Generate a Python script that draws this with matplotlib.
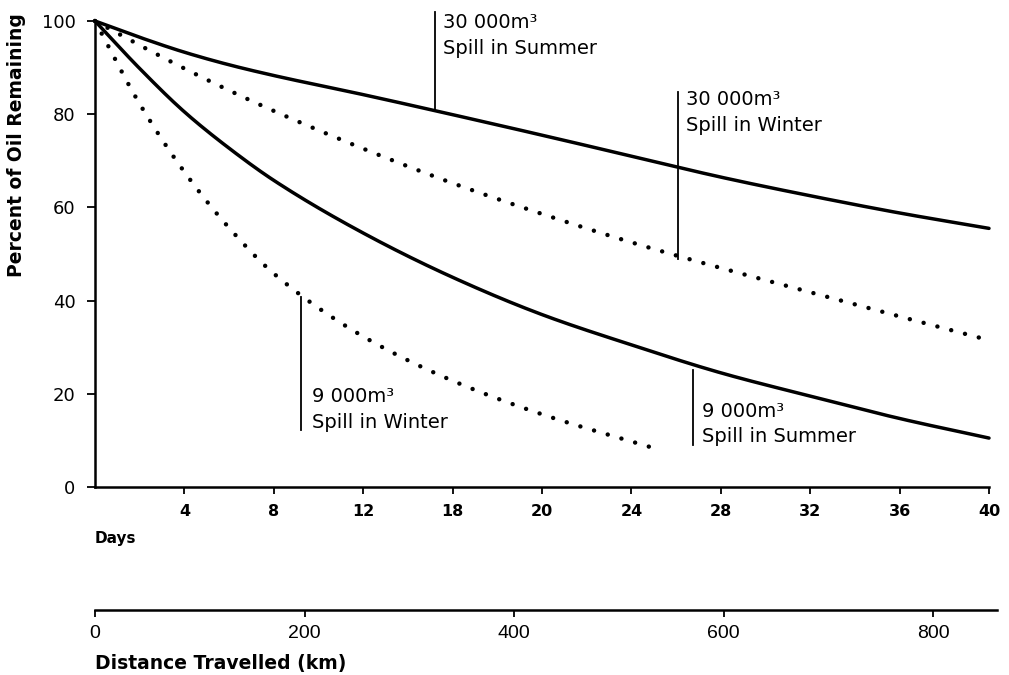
import numpy as np
import matplotlib
matplotlib.use("Agg")
import matplotlib.pyplot as plt

plt.rcParams["font.family"] = ["DejaVu Sans"]

# curves (percent of oil remaining vs days)
days = [0, 2, 4, 6, 8, 12, 16, 20, 24, 28, 32, 36, 40]
summer_30k = [100, 96.5, 93.3, 90.6, 88.3, 84.2, 79.9, 75.5, 71.0, 66.5, 62.5, 58.8, 55.5]
winter_30k = [100, 94.8, 89.8, 85.1, 80.7, 72.6, 65.2, 58.6, 52.5, 47.0, 41.8, 36.6, 31.5]
summer_9k = [100, 89.8, 80.5, 72.7, 65.8, 54.5, 45.0, 37.0, 30.5, 24.5, 19.5, 14.7, 10.5]
days_w9 = [0, 2, 4, 6, 8, 12, 16, 20, 24.9]
winter_9k = [100, 82.2, 67.6, 55.6, 45.8, 32.3, 22.8, 15.6, 8.5]

day_ticks = [4, 8, 12, 16, 20, 24, 28, 32, 36, 40]
day_labels = ["4", "8", "12", "18", "20", "24", "28", "32", "36", "40"]
pct_ticks = [0, 20, 40, 60, 80, 100]
km_ticks = [0, 200, 400, 600, 800]
km_max = 861

labels = {
    "s30": "30 000m³\nSpill in Summer",
    "w30": "30 000m³\nSpill in Winter",
    "w9": "9 000m³\nSpill in Winter",
    "s9": "9 000m³\nSpill in Summer",
}


def smooth(x, y, n=400):
    # monotone cubic (Fritsch-Carlson) through the read points
    x = np.asarray(x, float)
    y = np.asarray(y, float)
    h = np.diff(x)
    d = np.diff(y) / h
    m = np.zeros_like(y)
    m[0], m[-1] = d[0], d[-1]
    for i in range(1, len(x) - 1):
        if d[i - 1] * d[i] > 0:
            w1 = 2 * h[i] + h[i - 1]
            w2 = h[i] + 2 * h[i - 1]
            m[i] = (w1 + w2) / (w1 / d[i - 1] + w2 / d[i])
    xs = np.linspace(x[0], x[-1], n)
    k = np.clip(np.searchsorted(x, xs) - 1, 0, len(h) - 1)
    t = (xs - x[k]) / h[k]
    h00 = 2 * t**3 - 3 * t**2 + 1
    h10 = t**3 - 2 * t**2 + t
    h01 = -2 * t**3 + 3 * t**2
    h11 = t**3 - t**2
    ys = h00 * y[k] + h10 * h[k] * m[k] + h01 * y[k + 1] + h11 * h[k] * m[k + 1]
    return xs, ys


fig = plt.figure(figsize=(10.09, 6.75), dpi=100)
ax = fig.add_axes([95 / 1009, 1 - 487 / 675, 894 / 1009, 466 / 675])

solid = dict(color="black", lw=2.5, solid_capstyle="round")
dotted = dict(color="black", lw=3.2, linestyle=(0, (0.01, 3.2)),
              dash_capstyle="round")

ax.plot(*smooth(days, summer_30k), **solid, clip_on=False)
ax.plot(*smooth(days, summer_9k), **solid, clip_on=False)
ax.plot(*smooth(days, winter_30k), **dotted, clip_on=False)
ax.plot(*smooth(days_w9, winter_9k), **dotted, clip_on=False)

ax.set_xlim(0, 40)
ax.set_ylim(0, 100)
for s in ("top", "right"):
    ax.spines[s].set_visible(False)
for s in ("left", "bottom"):
    ax.spines[s].set_linewidth(1.8)

ax.set_xticks(day_ticks)
ax.set_xticklabels(day_labels, fontsize=11.5, fontweight="bold")
ax.set_yticks(pct_ticks)
ax.set_yticklabels([str(v) for v in pct_ticks], fontsize=13)
ax.tick_params(axis="x", length=5, width=1.3, pad=7)
ax.tick_params(axis="y", length=6, width=1.3, pad=8)

fig.text(95 / 1009, 1 - 538 / 675, "Days", fontsize=11, fontweight="bold",
         ha="left", va="center")
fig.text(17 / 1009, 1 - 145 / 675, "Percent of Oil Remaining", fontsize=13.5,
         fontweight="bold", rotation=90, ha="center", va="center")

# annotation leaders and texts
txt = dict(fontsize=14, ha="left", va="center", linespacing=1.45)
lead = dict(color="black", lw=1.3, clip_on=False)

x = 15.2
ax.plot([x, x], [np.interp(x, days, summer_30k), 102], **lead)
ax.text(x + 0.35, 96.9, labels["s30"], clip_on=False, **txt)

x = 26.1
ax.plot([x, x], [np.interp(x, days, winter_30k) - 0.6, 84.8], **lead)
ax.text(x + 0.35, 80.4, labels["w30"], **txt)

x = 9.2
ax.plot([x, x], [np.interp(x, days_w9, winter_9k) - 1, 12.2], **lead)
ax.text(x + 0.5, 16.7, labels["w9"], **txt)

x = 26.75
ax.plot([x, x], [np.interp(x, days, summer_9k) - 1.2, 9.0], **lead)
ax.text(x + 0.4, 13.5, labels["s9"], **txt)

# distance axis
ax2 = fig.add_axes([95 / 1009, 1 - 610 / 675, (km_max * 1.0475) / 1009, 0.001])
ax2.set_xlim(0, km_max)
ax2.set_yticks([])
for s in ("top", "right", "left"):
    ax2.spines[s].set_visible(False)
ax2.spines["bottom"].set_linewidth(1.8)
ax2.patch.set_visible(False)
ax2.set_xticks(km_ticks)
ax2.set_xticklabels([str(v) for v in km_ticks], fontsize=14,
                    fontfamily="Liberation Sans")
ax2.tick_params(axis="x", length=5, width=1.3, pad=6)
fig.text(95 / 1009, 1 - 663 / 675, "Distance Travelled (km)", fontsize=13.5,
         fontweight="bold", ha="left", va="center")

fig.savefig("out.png", dpi=100)
